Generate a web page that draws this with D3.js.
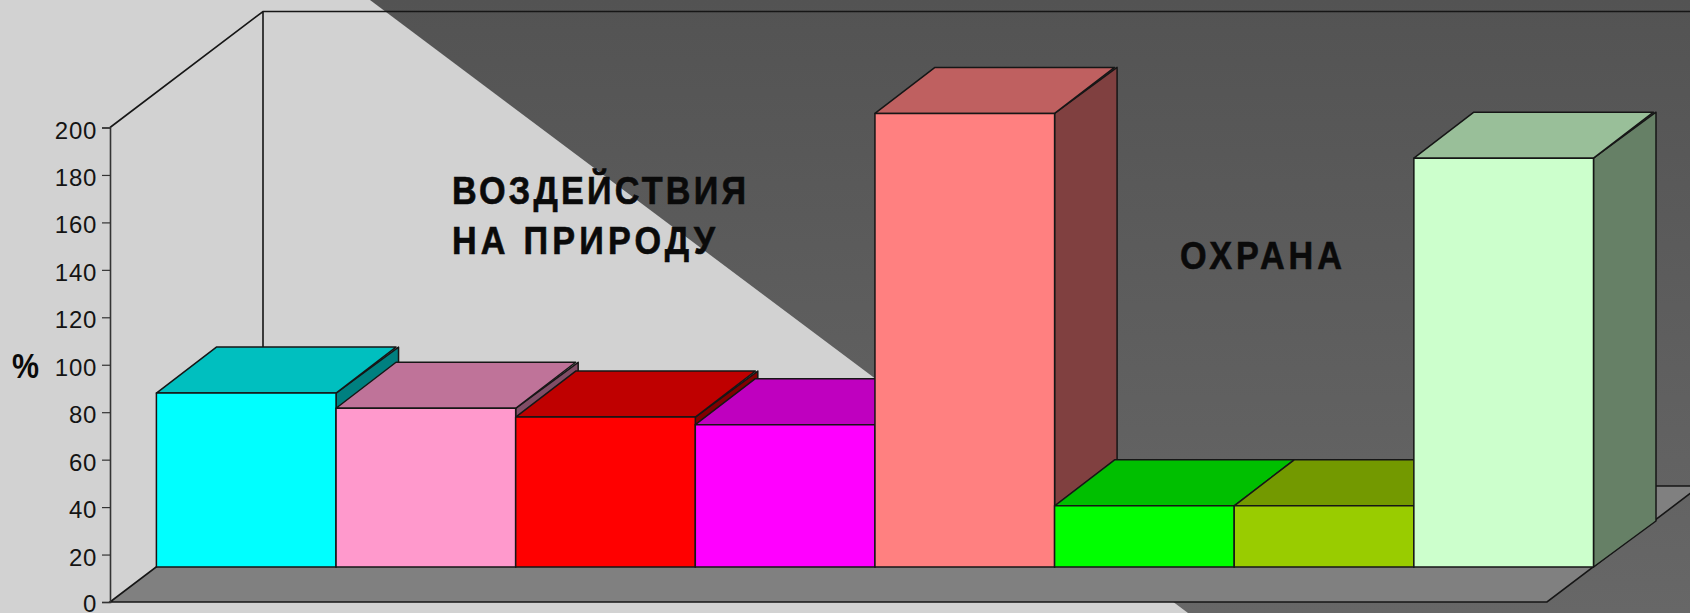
<!DOCTYPE html>
<html>
<head>
<meta charset="utf-8">
<script src="https://cdn.jsdelivr.net/npm/d3@7"></script>
<style>
  html, body { margin: 0; padding: 0; background: #d2d2d2; overflow: hidden; }
  svg { display: block; font-family: "Liberation Sans", Arial, sans-serif; }
</style>
</head>
<body>
<div id="chart"></div>
<script>
const barIds = ['1', '2', '3', '4', '5', '6', '7', '8'];
const barValues = [73.3, 66.9, 63.2, 60, 191.2, 25.8, 25.8, 172.3];
const barColors = ['#00ffff', '#ff99cc', '#ff0000', '#ff00ff', '#ff8080', '#00ff00', '#99cc00', '#ccffcc'];
const yTicks = [0, 20, 40, 60, 80, 100, 120, 140, 160, 180, 200];
const notes = [
  { text: 'ВОЗДЕЙСТВИЯ', x: 452, y: 204, w: 294 },
  { text: 'НА ПРИРОДУ', x: 452, y: 254, w: 263 },
  { text: 'ОХРАНА', x: 1180, y: 269, w: 162 }
];

const width = 1690, height = 613;
const ink = '#161616';

const svg = d3.select('#chart').append('svg')
  .attr('width', width)
  .attr('height', height);

// slide background: light page with the dark wedge on the right
const grad = svg.append('defs').append('linearGradient')
  .attr('id', 'dark')
  .attr('x1', 0).attr('y1', 0).attr('x2', 0).attr('y2', 1);
grad.append('stop').attr('offset', '0%').attr('stop-color', '#535353');
grad.append('stop').attr('offset', '100%').attr('stop-color', '#676767');

svg.append('rect')
  .attr('width', width).attr('height', height)
  .attr('fill', '#d2d2d2');
svg.append('path')
  .attr('d', 'M370,0H' + width + 'V' + height + 'H1188Z')
  .attr('fill', 'url(#dark)');

const y = d3.scaleLinear().domain([0, 200]).range([602, 127.5]);
const x = d3.scaleBand().domain(barIds).range([156.4, 1593.5]).padding(0);

// oblique projection offsets
const axisX = 110;
const wall = { dx: 153, dy: 116 };
const gap = { dx: 46, dy: 35 };
const depth = { dx: 60, dy: 46 };
const sideRim = 2.5; // side face sticks out a little past the top face
const floorEnd = 1547;

const poly = pts => 'M' + pts.map(p => p.join(',')).join('L') + 'Z';

// floor and wall edges
svg.append('path')
  .attr('d', poly([
    [axisX, y(0)],
    [axisX + wall.dx, y(0) - wall.dy],
    [floorEnd + wall.dx, y(0) - wall.dy],
    [floorEnd, y(0)]
  ]))
  .attr('fill', '#808080')
  .attr('stroke', ink)
  .attr('stroke-width', 1.6);

svg.append('path')
  .attr('d', 'M' + axisX + ',' + y(200) +
    'L' + (axisX + wall.dx) + ',' + (y(200) - wall.dy) +
    'H' + width +
    'M' + (axisX + wall.dx) + ',' + (y(200) - wall.dy) +
    'V' + (y(0) - wall.dy))
  .attr('fill', 'none')
  .attr('stroke', ink)
  .attr('stroke-width', 1.6);

// y axis
const yAxis = svg.append('g')
  .attr('transform', 'translate(' + axisX + ',0)')
  .call(d3.axisLeft(y).tickValues(yTicks).tickSize(8).tickPadding(5));
yAxis.select('.domain').attr('stroke', '#333').attr('stroke-width', 1.6);
yAxis.selectAll('.tick line').attr('stroke', '#333').attr('stroke-width', 1.2);
yAxis.selectAll('.tick text')
  .attr('font-size', 24)
  .attr('font-family', '"Liberation Sans", Arial, sans-serif')
  .attr('letter-spacing', '0.7px')
  .attr('fill', '#141414')
  .attr('dy', d => d === 0 ? '0.38em' : '0.44em');

// bars, painted left to right so each one covers the side of the previous
const shade = (c, k) => {
  const r = d3.rgb(c);
  return d3.rgb(r.r * k, r.g * k, r.b * k).formatHex();
};

const bars = svg.selectAll('.bar')
  .data(barIds.map((id, i) => ({ id, value: barValues[i], color: barColors[i] })))
  .enter().append('g')
  .attr('class', 'bar')
  .attr('stroke', ink)
  .attr('stroke-width', 1.5)
  .attr('stroke-linejoin', 'round');

const bx0 = d => x(d.id);
const bx1 = d => x(d.id) + x.bandwidth();
const by0 = () => y(0) - gap.dy;
const by1 = d => y(d.value) - gap.dy;

bars.append('path')
  .attr('fill', d => shade(d.color, 0.5))
  .attr('d', d => poly([
    [bx1(d), by1(d)],
    [bx1(d) + depth.dx + sideRim, by1(d) - depth.dy],
    [bx1(d) + depth.dx + sideRim, by0() - depth.dy],
    [bx1(d), by0()]
  ]));

bars.append('path')
  .attr('fill', d => shade(d.color, 0.75))
  .attr('d', d => poly([
    [bx0(d), by1(d)],
    [bx0(d) + depth.dx, by1(d) - depth.dy],
    [bx1(d) + depth.dx, by1(d) - depth.dy],
    [bx1(d), by1(d)]
  ]));

bars.append('rect')
  .attr('fill', d => d.color)
  .attr('x', bx0)
  .attr('y', by1)
  .attr('width', x.bandwidth())
  .attr('height', d => by0() - by1(d));

// captions, narrower glyphs spread out like the original bitmap text
const noteSquash = 0.9;
svg.selectAll('.note')
  .data(notes)
  .enter().append('text')
  .attr('class', 'note')
  .attr('transform', d => 'translate(' + d.x + ',' + d.y + ') scale(' + noteSquash + ',1)')
  .attr('textLength', d => d.w / noteSquash)
  .attr('lengthAdjust', 'spacing')
  .attr('font-size', 38)
  .attr('font-weight', 'bold')
  .attr('fill', '#0a0a0a')
  .attr('stroke', '#0a0a0a')
  .attr('stroke-width', 0.6)
  .text(d => d.text);

svg.append('text')
  .attr('x', 12)
  .attr('y', 378)
  .attr('textLength', 27)
  .attr('lengthAdjust', 'spacingAndGlyphs')
  .attr('font-size', 35)
  .attr('font-weight', 'bold')
  .attr('fill', '#0a0a0a')
  .text('%');
</script>
</body>
</html>
